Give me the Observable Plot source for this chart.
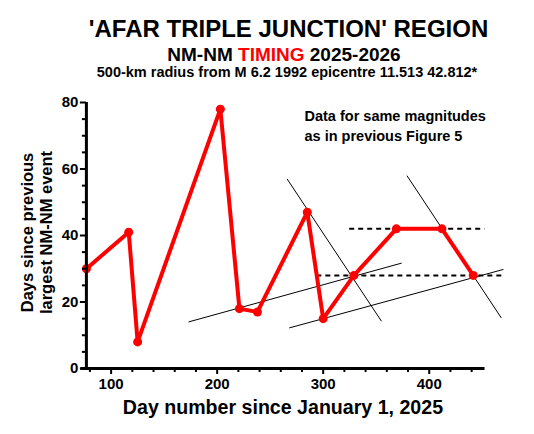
<!DOCTYPE html>
<html><head><meta charset="utf-8">
<script src="https://cdn.jsdelivr.net/npm/d3@7"></script>
<script src="https://cdn.jsdelivr.net/npm/@observablehq/plot@0.6"></script>
<style>
body{margin:0;background:#fff;font-family:"Liberation Sans",Arial,sans-serif;}
#wrap{position:relative;width:534px;height:434px;overflow:hidden;}
#head{position:relative;height:88px;}
.t{position:absolute;white-space:nowrap;font-weight:bold;line-height:1;transform:translateX(-50%);color:#000;}
#chart svg{display:block;}
</style></head><body>
<div id="wrap">
  <div id="head">
    <div class="t" id="t1" style="left:288.5px;top:16.7px;font-size:24px"></div>
    <div class="t" id="t2" style="left:284px;top:44.9px;font-size:19px"></div>
    <div class="t" id="t3" style="left:287px;top:64.7px;font-size:14.5px"></div>
  </div>
  <div id="chart"></div>
</div>
<script>
// ---- data ----
const days = [76.7, 116.6, 125, 203, 221, 238, 285, 300, 329, 369, 412, 441.5];
const intervals = [30, 41, 8, 78, 18, 17, 47, 15, 28, 42, 42, 28];
const trendX1 = [173, 268, 266, 379];
const trendY1 = [14, 12.2, 57, 58];
const trendX2 = [374, 470, 355, 468];
const trendY2 = [31.7, 29.8, 14.2, 15.2];
const levelY = [42, 28];
const levelX1 = [325, 294];
const levelX2 = [452.6, 469];
const xMajor = [100, 200, 300, 400];
const xMinor = [80, 120, 140, 160, 180, 220, 240, 260, 280, 320, 340, 360, 380, 420, 440];
const yMajor = [0, 20, 40, 60, 80];
const yMinor = [5, 10, 15, 25, 30, 35, 45, 50, 55, 65, 70, 75];
const xDomain = [71.5, 452.6];
const yDomain = [0, 80];
const title = "'AFAR TRIPLE JUNCTION' REGION";
const subtitleA = "NM-NM ";
const subtitleRed = "TIMING";
const subtitleB = " 2025-2026";
const subtitle2 = "500-km radius from M 6.2 1992 epicentre 11.513 42.812*";
const xLabel = "Day number since January 1, 2025";
const yLabel = "Days since previous\nlargest NM-NM event";
const note = "Data for same magnitudes\nas in previous Figure 5";

// ---- tables ----
const points = days.map((d, i) => ({day: d, interval: intervals[i]}));
const trends = trendX1.map((x, i) => ({x1: x, y1: trendY1[i], x2: trendX2[i], y2: trendY2[i]}));
const levels = levelY.map((y, i) => ({y, x1: levelX1[i], x2: levelX2[i]}));

document.getElementById("t1").textContent = title;
const t2 = document.getElementById("t2");
t2.append(subtitleA);
const red = document.createElement("span"); red.style.color = "#ff0000"; red.textContent = subtitleRed;
t2.append(red); t2.append(subtitleB);
document.getElementById("t3").textContent = subtitle2;

const shift = 5.5;
const font = "'Liberation Sans', Arial, sans-serif";
const chart = Plot.plot({
  width: 534, height: 346,
  marginTop: 14, marginBottom: 66, marginLeft: 80.4, marginRight: 49.5,
  style: {fontFamily: font, color: "#000", background: "#fff", overflow: "visible"},
  x: {domain: xDomain},
  y: {domain: yDomain},
  marks: [
    Plot.link(trends, {x1: "x1", y1: "y1", x2: "x2", y2: "y2", stroke: "#000", strokeWidth: 1}),
    Plot.ruleY(levels, {y: "y", x1: "x1", x2: "x2", stroke: "#000", strokeWidth: 2, strokeDasharray: "5,4"}),
    Plot.line(points, {x: "day", y: "interval", stroke: "#ff0000", strokeWidth: 4}),
    Plot.dot(points, {x: "day", y: "interval", r: 4.5, fill: "#ff0000"}),
    Plot.axisX({ticks: xMajor, tickSize: 6, strokeWidth: 2, tickPadding: 4, fontSize: 15, fontWeight: "bold", label: null}),
    Plot.axisX({ticks: xMinor, tickSize: 4, strokeWidth: 2, tickFormat: () => "", label: null}),
    Plot.axisY({ticks: yMajor, tickSize: 6, strokeWidth: 2, tickPadding: 2, fontSize: 15, fontWeight: "bold", label: null, dx: shift}),
    Plot.axisY({ticks: yMinor, tickSize: 4, strokeWidth: 2, tickFormat: () => "", label: null, dx: shift}),
    Plot.ruleY([yDomain[0]], {stroke: "#000", strokeWidth: 3}),
    Plot.ruleX([xDomain[0]], {stroke: "#000", strokeWidth: 3, dx: shift}),
    Plot.text([xLabel], {frameAnchor: "bottom", dy: 45, fontSize: 19.6, fontWeight: "bold", fill: "#000"}),
    Plot.text([yLabel], {frameAnchor: "left", textAnchor: "middle", rotate: -90, dx: -44.9, dy: -3, fontSize: 16.5, fontWeight: "bold", lineHeight: 1.15, fill: "#000"}),
    Plot.text([note], {frameAnchor: "top-left", dx: 223.6, dy: 4.3, textAnchor: "start", lineAnchor: "top", fontSize: 14.5, fontWeight: "bold", lineHeight: 1.38, fill: "#000"})
  ]
});
document.getElementById("chart").append(chart);
</script>
</body></html>
